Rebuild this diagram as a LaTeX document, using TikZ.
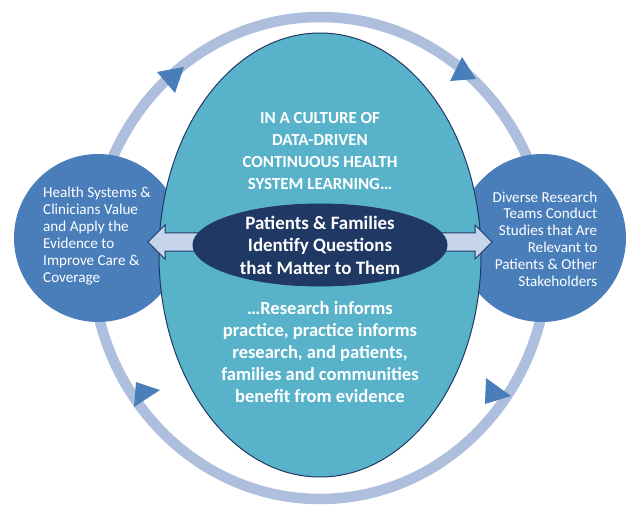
\documentclass[tikz,border=0pt]{standalone}
\usepackage{fontspec}
\setmainfont{Carlito}
\usetikzlibrary{shapes.geometric, shapes.arrows}

\definecolor{ringblue}{HTML}{ADBFDD}
\definecolor{midblue}{HTML}{4A7EBB}
\definecolor{aqua}{HTML}{58B3CA}
\definecolor{navy}{HTML}{1F3864}
\definecolor{paleblue}{HTML}{C6D5EC}

\tikzset{
    ring/.style={draw=ringblue, line width=10.5bp},
    ringtip/.style={fill=midblue},
    sidecircle/.style={circle, fill=midblue, minimum size=168bp, inner sep=0pt},
    sidetext/.style={text=white, font=\fontsize{15.2}{16.9}\selectfont},
    bigtext/.style={text=white, align=center, font=\fontsize{17}{21.8}\selectfont\bfseries}
}

\begin{document}
\begin{tikzpicture}[x=1bp, y=-1bp]
        \useasboundingbox (0,0) rectangle (640,517);

        % Draw cycle
        \draw[ring] (320,258) ellipse [x radius=228bp, y radius=241bp];
        \fill[ringtip] (157,72) -- (184,67) -- (175,93) -- cycle;
        \fill[ringtip] (462,57) -- (476,79) -- (450,81) -- cycle;
        \fill[ringtip] (136,382) -- (160,390) -- (134,407) -- cycle;
        \fill[ringtip] (486,378) -- (511,396) -- (485,404) -- cycle;

        % Draw nodes
        \node[sidecircle] (apply) at (98,238) {};
        \node[sidecircle] (study) at (542,238) {};
        \node[ellipse, draw=navy, fill=aqua, line width=1bp, minimum width=322bp, minimum height=444bp, inner sep=0pt] (culture) at (320,255) {};
        \node[double arrow, draw=navy, fill=paleblue, line width=1bp, minimum height=344bp, inner xsep=0pt, inner ysep=8.5bp, double arrow head extend=8bp] (links) at (320,242) {};
        \node[ellipse, draw=navy, fill=navy, line width=1bp, minimum width=254bp, minimum height=82bp, inner sep=0pt] (questions) at (320,245) {};

        % Draw texts
        \node[sidetext, align=left] at (97,236) {Health Systems \&\\Clinicians Value\\and Apply the\\Evidence to\\Improve Care \&\\Coverage};
        \node[sidetext, align=right] at (545,239) {Diverse Research\\Teams Conduct\\Studies that Are\\Relevant to\\Patients \& Other\\Stakeholders};
        \node[bigtext] at (320,151) {IN A CULTURE OF\\DATA-DRIVEN\\CONTINUOUS HEALTH\\SYSTEM LEARNING\ldots};
        \node[bigtext, font=\fontsize{19}{22.5}\selectfont\bfseries] at (questions.center) {Patients \& Families\\Identify Questions\\that Matter to Them};
        \node[bigtext, font=\fontsize{18.6}{22}\selectfont\bfseries] at (320,352) {\ldots Research informs\\practice, practice informs\\research, and patients,\\families and communities\\benefit from evidence};
    \end{tikzpicture}
\end{document}
